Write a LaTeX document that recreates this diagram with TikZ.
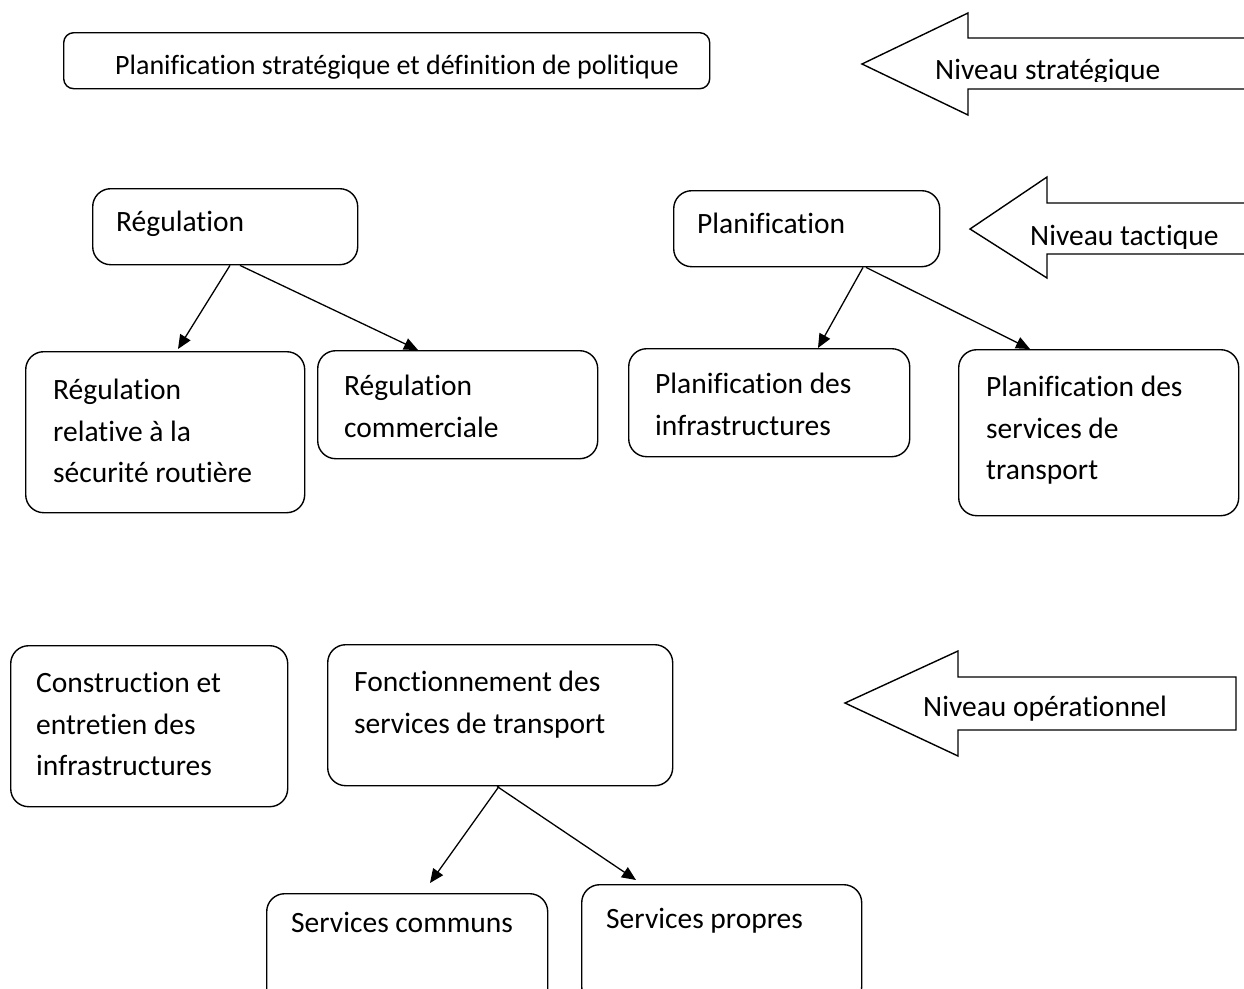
\documentclass[tikz,border=0pt]{standalone}
\usepackage{fontspec}
\setmainfont[Ligatures=NoCommon]{Carlito}
\usetikzlibrary{arrows.meta}
\begin{document}
\begin{tikzpicture}[x=1pt,y=-1pt,
  box/.style={draw,line width=1.4pt,rounded corners=18pt,inner sep=0pt,anchor=north west},
  lbl/.style={anchor=north west,inner sep=0pt,font=\fontsize{29.5}{41.5}\selectfont,align=left},
  conn/.style={line width=1.3pt,-{Triangle[length=14pt,width=12pt]}},
  bigarrow/.style={draw,line width=1.4pt,line join=miter}]
\useasboundingbox (0,0) rectangle (1244,988);
\clip (0,0) rectangle (1244,988);

% strategic level
\node[box,rounded corners=10pt,minimum width=646pt,minimum height=56pt] (ps) at (63,32) {};
\begin{scope}
\clip (100,40) rectangle (700,79);
\node[lbl,font=\fontsize{28}{41.5}\selectfont] (pst) at (115,55) {Planification stratégique et définition de politique};
\end{scope}

\draw[bigarrow] (1250,38) -- (968,38) -- (968,13) -- (862,64) -- (968,115) -- (968,89) -- (1250,89);
\begin{scope}
\clip (925,40) rectangle (1244,81);
\node[lbl] (ns) at (935,59) {Niveau stratégique};
\end{scope}

% tactical level
\node[box,minimum width=265pt,minimum height=76pt] (reg) at (92,188) {};
\node[lbl] (regt) at (116,211) {Régulation};
\node[box,minimum width=266pt,minimum height=76pt] (plan) at (673,190) {};
\node[lbl] (plant) at (697,213) {Planification};

\draw[bigarrow] (1250,203) -- (1047,203) -- (1047,177) -- (970,229) -- (1047,278) -- (1047,254) -- (1250,254);
\begin{scope}
\clip (1020,205) rectangle (1244,248);
\node[lbl] (nt) at (1030,225) {Niveau tactique};
\end{scope}

\node[box,minimum width=279pt,minimum height=161pt] (rrs) at (25,351) {};
\node[lbl] (rrst) at (53,379) {Régulation\\relative à la\\sécurité routière};
\node[box,minimum width=280pt,minimum height=108pt] (rc) at (317,350) {};
\node[lbl] (rct) at (344,375) {Régulation\\commerciale};
\node[box,minimum width=281pt,minimum height=108pt] (pi) at (628,348) {};
\node[lbl] (pit) at (655,373) {Planification des\\infrastructures};
\node[box,minimum width=280pt,minimum height=166pt] (pserv) at (958,349) {};
\node[lbl] (pservt) at (986,376) {Planification des\\services de\\transport};

\draw[conn] ([xshift=138pt]reg.south west) -- ([xshift=153pt,yshift=2pt]rrs.north west);
\draw[conn] ([xshift=148pt]reg.south west) -- ([xshift=101pt]rc.north west);
\draw[conn] ([xshift=190pt]plan.south west) -- ([xshift=190pt]pi.north west);
\draw[conn] ([xshift=193pt]plan.south west) -- ([xshift=72pt]pserv.north west);

% operational level
\node[box,minimum width=277pt,minimum height=161pt] (cei) at (10,645) {};
\node[lbl] (ceit) at (36,672) {Construction et\\entretien des\\infrastructures};
\node[box,minimum width=345pt,minimum height=141pt] (fst) at (327,644) {};
\node[lbl] (fstt) at (354,671) {Fonctionnement des\\services de transport};

\draw[bigarrow] (845,703) -- (958,651) -- (958,677) -- (1236,677) -- (1236,730) -- (958,730) -- (958,756) -- cycle;
\node[lbl] (no) at (923,696) {Niveau opérationnel};

\node[box,minimum width=281pt,minimum height=120pt] (sc) at (266,893) {};
\node[lbl] (sct) at (291,912) {Services communs};
\node[box,minimum width=280pt,minimum height=120pt] (sp) at (581,884) {};
\node[lbl] (spt) at (606,908) {Services propres};

\draw[conn] ([xshift=172pt]fst.south west) -- ([xshift=164pt,yshift=10pt]sc.north west);
\draw[conn] ([xshift=170pt]fst.south west) -- ([xshift=55pt,yshift=4pt]sp.north west);
\end{tikzpicture}
\end{document}
